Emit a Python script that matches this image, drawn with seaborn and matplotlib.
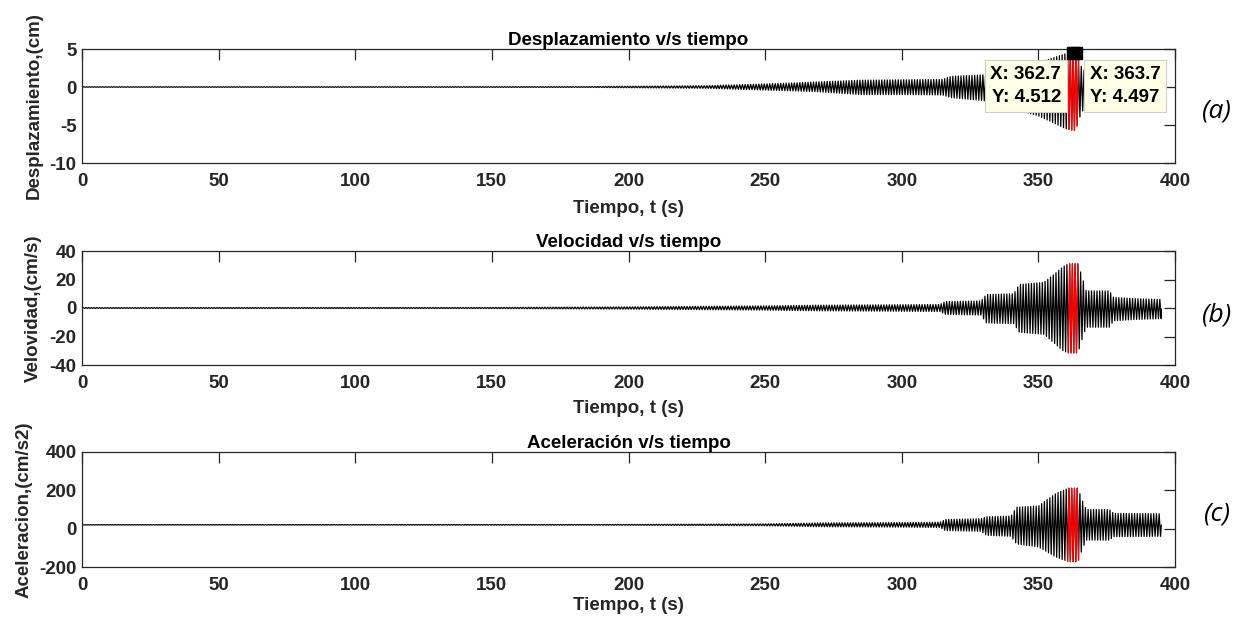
import numpy as np
import pandas as pd
import matplotlib
matplotlib.use("Agg")
import matplotlib.pyplot as plt
import seaborn as sns

# ---------------------------------------------------------------------------
# Response envelopes (knot times in s, upper / lower peak values)
# ---------------------------------------------------------------------------
disp_t = [0, 185, 200, 229, 253, 268, 285, 300, 315, 318, 330, 340, 350, 356,
          360, 362.7, 363.7, 365.5, 368, 380, 395]
disp_up = [0.03, 0.05, 0.1, 0.18, 0.44, 0.65, 0.9, 0.95, 1.0, 1.4, 1.6, 2.4, 3.2,
           3.9, 4.4, 4.512, 4.497, 2.8, 1.6, 1.1, 0.8]
disp_lo = [-0.03, -0.05, -0.1, -0.18, -0.44, -0.6, -1.0, -1.0, -1.05, -1.4, -1.8,
           -2.8, -3.8, -4.8, -5.5, -5.7, -5.7, -3.6, -2.0, -1.4, -1.0]

vel_t = [0, 150, 200, 250, 270, 300, 314, 316, 329, 331, 341, 343, 352, 356,
         359, 361, 364.5, 366, 367.5, 376, 377.5, 386, 395]
vel_up = [0.3, 0.4, 0.8, 1.5, 2.0, 2.3, 2.5, 4.5, 5.0, 9.5, 10.0, 16.5, 18.0,
          24.0, 29.0, 31.0, 31.0, 22.0, 12.0, 12.0, 7.5, 6.5, 6.0]
vel_lo = [-0.3, -0.4, -0.8, -1.5, -2.0, -2.3, -2.5, -4.5, -5.0, -10.5, -11.0,
          -17.0, -18.5, -25.0, -30.0, -31.5, -31.5, -22.0, -13.5, -13.5, -9.0,
          -8.0, -7.5]

acc_t = [0, 200, 250, 270, 300, 314, 316, 329, 331, 340, 342, 350, 353, 356,
         359, 361, 364.5, 366, 367.5, 376, 377.5, 395]
acc_up = [21, 22, 25, 30, 32, 34, 48, 52, 62, 66, 112, 118, 150, 180, 200,
          211, 211, 150, 100, 100, 80, 78]
acc_lo = [19, 18, 15, 10, 8, 6, -10, -14, -35, -40, -80, -95, -120, -145,
          -162, -172, -172, -110, -60, -60, -42, -40]

# oscillation period (s), record length (s) and phase of the first peak
period = 1.0
t_end = 395.0
first_peak = {"disp": 0.7, "vel": 0.45, "acc": 0.2}

# highlighted time window (drawn in red)
hl_start, hl_end = 360.5, 364.8

# data tips on the displacement record
tip_t = [362.7, 363.7]
tip_y = [4.512, 4.497]

titles = ["Desplazamiento v/s tiempo", "Velocidad v/s tiempo",
          "Aceleración v/s tiempo"]
ylabels = ["Desplazamiento,(cm)", "Velovidad,(cm/s)", "Aceleracion,(cm/s2)"]
xlabel = "Tiempo, t (s)"
panel_tags = ["(a)", "(b)", "(c)"]
ylims = [(-10, 5), (-40, 40), (-200, 400)]
yticks = [[-10, -5, 0, 5], [-40, -20, 0, 20, 40], [-200, 0, 200, 400]]
xticks = list(range(0, 401, 50))


def peak_trace(knots, up, lo, phase):
    """Alternate between the upper and lower envelope every half cycle."""
    tp = np.round(np.arange(phase, t_end, period / 2), 3)
    upper = np.interp(tp, knots, up)
    lower = np.interp(tp, knots, lo)
    vals = np.where(np.arange(tp.size) % 2 == 0, upper, lower)
    t = np.concatenate(([0.0], tp, [t_end]))
    v = np.concatenate(([(up[0] + lo[0]) / 2], vals, [(up[-1] + lo[-1]) / 2]))
    return pd.DataFrame({"t": t, "v": v})


records = [
    peak_trace(disp_t, disp_up, disp_lo, first_peak["disp"]),
    peak_trace(vel_t, vel_up, vel_lo, first_peak["vel"]),
    peak_trace(acc_t, acc_up, acc_lo, first_peak["acc"]),
]

sns.set_theme(style="white")
plt.rcParams["font.family"] = ["Liberation Sans", "DejaVu Sans"]
plt.rcParams["font.weight"] = "bold"
plt.rcParams["axes.labelweight"] = "bold"
plt.rcParams["axes.titleweight"] = "bold"
plt.rcParams["axes.unicode_minus"] = False

axis_color = "#262626"
fs = 13.5

fig = plt.figure(figsize=(12.38, 6.24), dpi=100)
fig.patch.set_facecolor("white")

left, width = 82 / 1238, 1093 / 1238
tops = [49, 251, 452]
bottoms = [163, 365, 567]
tag_y = [111, 315, 514]
xlabel_y = [-0.325, -0.31, -0.26]
ylabel_x = [-0.0357, -0.0366, -0.0457]

for i, df in enumerate(records):
    b = 1 - bottoms[i] / 624
    h = (bottoms[i] - tops[i]) / 624
    ax = fig.add_axes([left, b, width, h])
    ax.set_facecolor("white")

    sns.lineplot(data=df, x="t", y="v", ax=ax, color="black", linewidth=0.9,
                 estimator=None, sort=False, legend=False, zorder=2)
    sel = df[(df["t"] >= hl_start) & (df["t"] <= hl_end)]
    sns.lineplot(data=sel, x="t", y="v", ax=ax, color="red", linewidth=0.9,
                 estimator=None, sort=False, legend=False, zorder=3)

    ax.set_xlim(0, 400)
    ax.set_ylim(*ylims[i])
    ax.set_xticks(xticks)
    ax.set_yticks(yticks[i])
    ax.tick_params(direction="in", length=8, width=0.9, top=True, right=True,
                   colors=axis_color, labelsize=fs, labelcolor=axis_color)
    ax.tick_params(axis="x", pad=7)
    ax.tick_params(axis="y", pad=4)
    for lab in ax.get_xticklabels() + ax.get_yticklabels():
        lab.set_fontweight("bold")
    for sp in ax.spines.values():
        sp.set_color(axis_color)
        sp.set_linewidth(0.9)
        sp.set_visible(True)

    ax.set_title(titles[i], fontsize=fs, fontweight="bold", color="black", pad=3)
    ax.set_xlabel(xlabel, fontsize=fs, fontweight="bold", color=axis_color)
    ax.set_ylabel(ylabels[i], fontsize=fs, fontweight="bold", color=axis_color)
    ax.xaxis.set_label_coords(0.5, xlabel_y[i])
    ax.yaxis.set_label_coords(ylabel_x[i], 0.5)

    fig.text(1217 / 1238, 1 - tag_y[i] / 624, panel_tags[i], fontsize=19,
             fontstyle="italic", fontweight="normal", family="Open Sans",
             color="black", ha="center", va="center")

    if i == 0:
        ax.plot(tip_t, tip_y, linestyle="none", marker="s", markersize=8,
                color="black", zorder=6, clip_on=False)
        offsets = [(-12, -13, "right"), (14, -13, "left")]
        for (tx, ty), (dx, dy, ha) in zip(zip(tip_t, tip_y), offsets):
            ax.annotate(f"X: {tx:.1f}\nY: {ty:.3f}", xy=(tx, ty),
                        xytext=(dx, dy), textcoords="offset pixels",
                        ha=ha, va="top", fontsize=fs, fontweight="bold",
                        color="black", zorder=5, linespacing=1.5,
                        bbox=dict(boxstyle="square,pad=0.3", fc="#ffffe8",
                                  ec="#d0d0c8", lw=0.8))

fig.savefig("out.png", dpi=100, facecolor="white")
